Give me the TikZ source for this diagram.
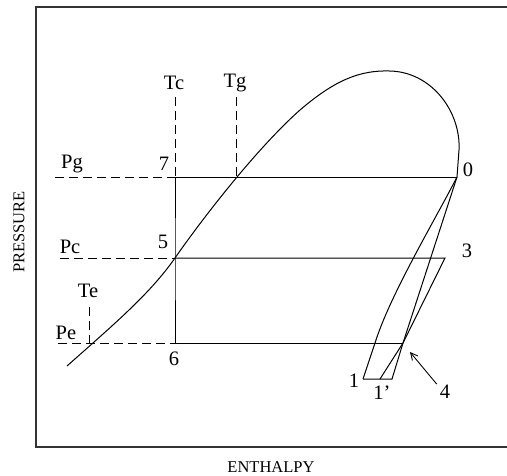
\documentclass[tikz,border=0pt]{standalone}
\usepackage{fontspec}
\setmainfont{Liberation Serif}
\usetikzlibrary{arrows.meta}

\tikzset{
  lbl/.style={inner sep=0pt, font=\fontsize{20.5}{20.5}\selectfont},
  axlbl/.style={inner sep=0pt, font=\fontsize{16.5}{16.5}\selectfont},
  guide/.style={dash pattern=on 9pt off 5pt, line width=0.8pt},
  cyc/.style={line width=1pt}
}

\begin{document}
\begin{tikzpicture}[x=1pt, y=-1pt]
    \useasboundingbox (0,0) rectangle (507,475);
    % frame
    \coordinate (ftr) at (507,7); \coordinate (ftl) at (36,7);
    \coordinate (fbl) at (36,447); \coordinate (fbr) at (507,447);
    \draw[line width=1.1pt, black!80] (ftr) -- (ftl) -- (fbl) -- (fbr);
    \node[axlbl, rotate=90] (P) at (19,232) {PRESSURE};
    \node[axlbl] (H) at (271,467) {ENTHALPY};
    % state points
    \coordinate (p7) at (175,177); \coordinate (p0) at (457,177);
    \coordinate (p5) at (175,258); \coordinate (p3) at (445,258);
    \coordinate (p6) at (175,343); \coordinate (p4) at (403,343);
    \coordinate (p1) at (363,379); \coordinate (p1b) at (380,379);
    \coordinate (pa) at (392,379);
    \coordinate (te) at (89,343); \coordinate (tg) at (236,177);
    % saturation curve
    \draw[cyc] (67,366) .. controls (112,326) and (150,294) .. (p5)
      .. controls (200,222) and (255,150) .. (300,110)
      .. controls (335,80) and (360,70) .. (390,71)
      .. controls (432,72) and (461,112) .. (459,150) -- (p0);
    \draw[cyc] (p0) .. controls (435,220) and (390,295) .. (375,343) -- (p1);
    % cycle
    \draw[cyc] (p7) -- (p0);
    \draw[cyc] (p7) -- (p5) -- (p6) -- (p4);
    \draw[cyc] (p5) -- (p3) -- (p4) -- (pa) -- (p1);
    \draw[cyc] (p0) -- (p4) -- (p1b);
    % guide lines
    \coordinate (tcT) at (175,97); \coordinate (tgT) at (236,97);
    \coordinate (pgL) at (55,177); \coordinate (pcL) at (60,258);
    \coordinate (peL) at (58,343); \coordinate (teT) at (89,307);
    \draw[guide] (tcT) -- (p7); \draw[guide] (tgT) -- (tg);
    \draw[guide] (pgL) -- (p7); \draw[guide] (pcL) -- (p5);
    \draw[guide] (peL) -- (p6); \draw[guide] (teT) -- (te);
    % labels
    \node[lbl] (Tc) at (174,83) {Tc}; \node[lbl] (Tg) at (235,83) {Tg};
    \node[lbl] (Pg) at (72,164) {Pg}; \node[lbl] (Pc) at (70,247) {Pc};
    \node[lbl] (Te) at (88,291) {Te}; \node[lbl] (Pe) at (66,333) {Pe};
    \node[lbl] (L7) at (164,164) {7}; \node[lbl] (L5) at (163,242) {5};
    \node[lbl] (L6) at (174,359) {6}; \node[lbl] (L0) at (468,170) {0};
    \node[lbl] (L3) at (467,251) {3}; \node[lbl] (L1) at (354,381) {1};
    \node[lbl] (L1b) at (382,393) {1'}; \node[lbl] (L4) at (445,392) {4};
    \coordinate (a4) at (410,352);
    \draw[line width=0.9pt, -{Straight Barb[length=7pt, width=7pt]}] (L4.north west) ++(-3,-1) -- (a4);
  \end{tikzpicture}
\end{document}
